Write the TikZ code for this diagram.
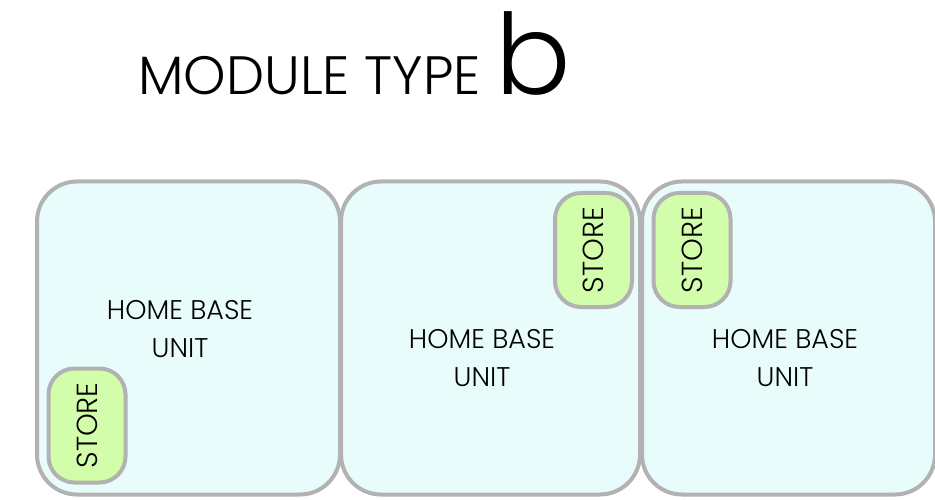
\documentclass[tikz,border=0pt]{standalone}
\usepackage{fontspec}
\setmainfont{Poppins Light}
\definecolor{boxfill}{RGB}{232,252,252}
\definecolor{storefill}{RGB}{210,253,170}
\definecolor{edgegray}{RGB}{178,178,178}
\tikzset{
  unitbox/.style={draw=edgegray, line width=4pt, fill=boxfill, rounded corners=40pt, minimum width=#1, minimum height=313pt, inner sep=0pt},
  storebox/.style={draw=edgegray, line width=4pt, fill=storefill, rounded corners=26pt, minimum width=77pt, minimum height=114pt, inner sep=0pt},
  unitlabel/.style={align=center, font=\fontsize{27}{38}\selectfont, text=black},
  storelabel/.style={rotate=90, font=\fontsize{29}{32}\selectfont, text=black}
}
\begin{document}
\begin{tikzpicture}[x=1pt,y=-1pt]
\useasboundingbox (0,0) rectangle (935,500);
\node[anchor=base west, font=\fontsize{54}{60}\selectfont, inner sep=0pt] (title) at (138,95) {MODULE TYPE \fontsize{112}{120}\selectfont b};
\node[unitbox=303pt] (u1) at (188.5,338) {};
\node[unitbox=299pt] (u2) at (490.5,338) {};
\node[unitbox=293pt] (u3) at (788.5,338) {};
\node[storebox] (s1) at (87,425.5) {};
\node[storebox] (s2) at (593.5,250) {};
\node[storebox] (s3) at (692,250) {};
\node[storelabel] (t1) at (s1) {STORE};
\node[storelabel] (t2) at (s2) {STORE};
\node[storelabel] (t3) at (s3) {STORE};
\node[unitlabel] (l1) at (180,329) {HOME BASE\\UNIT};
\node[unitlabel] (l2) at (482,358) {HOME BASE\\UNIT};
\node[unitlabel] (l3) at (785,358) {HOME BASE\\UNIT};
\end{tikzpicture}
\end{document}
